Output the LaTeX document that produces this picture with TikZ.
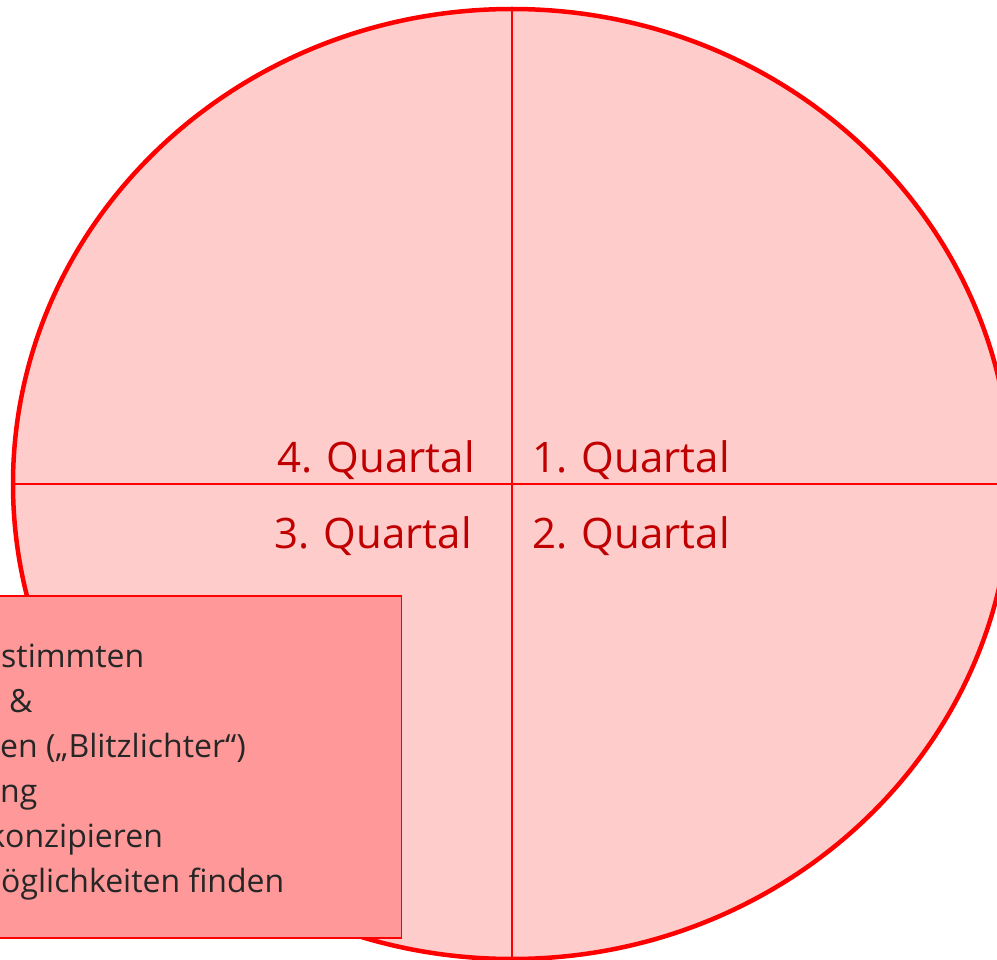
\documentclass[tikz,border=0pt]{standalone}
\usepackage{fontspec}
\setmainfont{Open Sans}
\usetikzlibrary{shapes.geometric}
\definecolor{ringred}{RGB}{255,0,0}
\definecolor{ringfill}{RGB}{255,204,204}
\definecolor{boxfill}{RGB}{255,153,153}
\definecolor{labred}{RGB}{192,0,0}
\definecolor{txtgray}{RGB}{38,38,38}
\tikzset{
  quart/.style={font=\fontsize{42}{50}\selectfont, text=labred, inner sep=0pt},
  boxtext/.style={font=\fontsize{32}{38}\selectfont, text=txtgray, inner sep=0pt, anchor=base west},
  divider/.style={draw=ringred, line width=1.8pt},
}
\begin{document}
\begin{tikzpicture}[x=1pt,y=-1pt]
\useasboundingbox (0,0) rectangle (997,960);
\clip (0,0) rectangle (997,960);
\node[ellipse, draw=ringred, fill=ringfill, line width=4.5pt, inner sep=0pt, outer sep=0pt,
      minimum width=998pt, minimum height=950pt] (circ) at (512,484) {};
\draw[divider] (circ.north) -- (circ.south);
\draw[divider] (circ.west) -- (circ.east);
\node[quart, anchor=base east] (q4) at (475,472) {4. Quartal};
\node[quart, anchor=base west] (q1) at (532,472) {1. Quartal};
\node[quart, anchor=base east] (q3) at (472,548) {3. Quartal};
\node[quart, anchor=base west] (q2) at (532,548) {2. Quartal};
\node[draw=ringred, fill=boxfill, line width=1.5pt, inner sep=0pt, anchor=north east,
      minimum width=702pt, minimum height=342pt] (box) at (402,595) {};
\node[boxtext] (t1) at (1,667) {stimmten};
\node[boxtext] (t2) at (9,712) {\&};
\node[boxtext] (t3) at (0,757) {en („Blitzlichter“)};
\node[boxtext] (t4) at (0,802) {ng};
\node[boxtext] (t5) at (5,847) {\llap{k}onzipieren};
\node[boxtext] (t6) at (1,892) {öglichkeiten finden};
\end{tikzpicture}
\end{document}
